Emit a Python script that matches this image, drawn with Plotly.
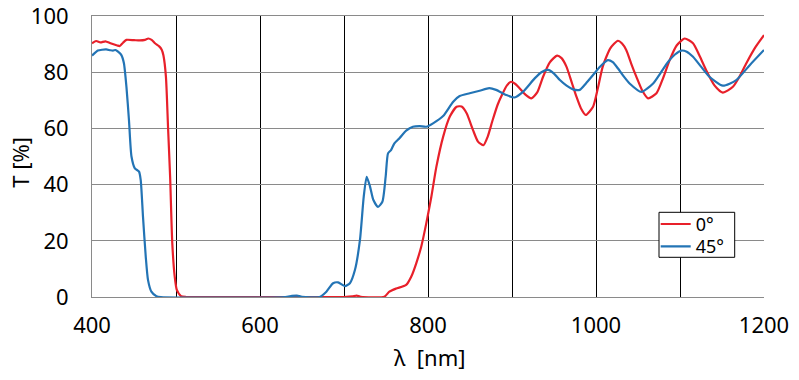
import plotly.graph_objects as go

# ---- data ----
wl_0 = [400, 405, 410, 416, 422, 430, 433, 437, 441, 450, 457, 463, 467, 471, 475, 480, 483, 485, 488, 490.5,
        493, 495.6, 498.5, 501, 506, 512, 600, 700, 710, 715, 720, 748, 754, 762, 774, 780, 786, 792, 798, 804,
        810, 818, 826, 834, 840, 846, 853.6, 859.5, 866, 871, 877, 883, 889, 894, 899, 904, 909, 916, 923, 930,
        937, 945, 953.6, 959, 964.8, 971, 976.7, 982, 987.7, 996.5, 1002, 1008, 1017, 1026, 1031, 1036, 1042,
        1048, 1055, 1062, 1072, 1080, 1087.7, 1096, 1105.6, 1115.5, 1123, 1131, 1141, 1151, 1163, 1171, 1179,
        1190, 1200]
t_0 = [90.3, 91.1, 90.6, 91.0, 90.3, 89.5, 89.3, 90.5, 91.5, 91.4, 91.3, 91.5, 92.0, 91.5, 90.3, 89.2, 88.0, 86.0,
       78.4, 60.6, 42.8, 19.0, 7.2, 2.5, 0.3, 0.0, 0.0, 0.0, 0.2, 0.5, 0.1, 0.1, 1.9, 3.0, 4.3, 7.2, 12.0, 18.0,
       26.3, 35.7, 46.4, 57.0, 64.2, 67.7, 67.8, 65.4, 59.4, 55.3, 54.0, 57.0, 63.0, 68.5, 72.5, 75.3, 76.6, 75.8,
       74.3, 72.0, 70.7, 72.8, 78.4, 83.5, 85.9, 85.0, 82.0, 76.5, 71.3, 67.2, 64.8, 67.7, 74.0, 82.0, 88.5, 91.2,
       90.2, 87.9, 83.0, 78.4, 73.5, 70.7, 72.5, 78.0, 84.3, 89.5, 92.0, 90.3, 86.0, 80.8, 75.3, 72.7, 74.8, 78.5,
       83.2, 89.0, 93.2]

wl_45 = [400, 407, 412, 417, 422, 425, 428, 431, 435, 438, 441, 444, 447, 451, 456, 458, 460.7, 464, 466.7, 470.7,
         476.7, 482, 630, 638, 644, 650, 671, 679, 687, 693, 701, 707, 713, 719, 723.5, 727, 731, 735, 740.5,
         745.7, 749.6, 752.4, 756, 760, 766, 774, 782, 790, 798, 806, 818, 830, 837.7, 849.6, 861.5, 873, 881,
         893, 903, 913, 927, 935, 943, 950, 957, 965, 972.6, 980.6, 988, 996.5, 1005, 1014, 1020, 1026, 1033,
         1040, 1054, 1068, 1077, 1086, 1094, 1101.7, 1108, 1115.5, 1125, 1135, 1151, 1167, 1183, 1200]
t_45 = [85.9, 87.7, 88.0, 88.1, 87.8, 87.7, 87.9, 87.3, 86.1, 83.2, 74.8, 63.0, 50.0, 45.8, 44.6, 41.6, 28.6, 14.3,
        6.0, 1.9, 0.3, 0.0, 0.0, 0.4, 0.5, 0.1, 0.0, 1.9, 4.9, 5.2, 3.9, 4.9, 9.6, 20.3, 35.7, 42.8, 39.3, 34.5,
        32.1, 33.9, 42.8, 51.1, 52.3, 54.7, 56.5, 59.2, 60.6, 60.8, 60.6, 61.8, 64.4, 69.5, 71.5, 72.5, 73.4,
        74.3, 73.7, 71.9, 71.0, 73.0, 77.8, 80.0, 80.8, 79.5, 77.2, 75.2, 73.9, 73.7, 76.0, 79.0, 82.0, 84.3,
        83.6, 81.4, 78.5, 76.0, 73.0, 76.0, 79.8, 83.7, 86.3, 87.7, 87.3, 85.5, 82.0, 78.4, 75.2, 77.2, 82.5, 87.9]

series_names = ["0°", "45°"]
x_tick_vals = [400, 500, 600, 700, 800, 900, 1000, 1100, 1200]
x_tick_text = ["400", "", "600", "", "800", "", "1000", "", "1200"]
y_tick_vals = [0, 20, 40, 60, 80, 100]

FONT = "Noto Sans, Liberation Sans, Arial, sans-serif"

# plot-area pixel geometry (for placing text/legend in paper coordinates)
PL, PR, PT, PB = 92.3, 764.3, 16.0, 297.0
PW, PH = PR - PL, PB - PT


def px(x):
    return (x - PL) / PW


def py(y):
    return (PB - y) / PH


fig = go.Figure()
fig.add_trace(go.Scatter(x=wl_0, y=t_0, mode="lines", name=series_names[0], legend="legend",
                         line=dict(color="#E8202A", width=2.2, shape="spline", smoothing=0.6)))
fig.add_trace(go.Scatter(x=wl_45, y=t_45, mode="lines", name=series_names[1], legend="legend2",
                         line=dict(color="#2374B5", width=2.2, shape="spline", smoothing=0.6)))

LEG_OFF = 17.5  # legend top -> first entry centre
leg_common = dict(xanchor="left", yanchor="top", bgcolor="rgba(0,0,0,0)", borderwidth=0,
                  font=dict(size=18, family=FONT), itemwidth=30)

fig.update_layout(
    width=799, height=380,
    margin=dict(l=92, r=35, t=16, b=83, autoexpand=False),
    paper_bgcolor="white", plot_bgcolor="white",
    font=dict(family=FONT, color="black", size=22),
    showlegend=True,
    legend=dict(x=px(656), y=py(223.3 - LEG_OFF), **leg_common),
    legend2=dict(x=px(656), y=py(245.7 - LEG_OFF), **leg_common),
    shapes=[dict(type="rect", xref="paper", yref="paper", layer="above",
                 x0=px(659.3), x1=px(735), y0=py(257.3), y1=py(212.3),
                 line=dict(color="black", width=1), fillcolor="white")],
    xaxis=dict(range=[400, 1200], tickmode="array", tickvals=x_tick_vals, ticktext=x_tick_text,
               showgrid=True, gridcolor="black", gridwidth=1, zeroline=False, automargin=False,
               showline=True, linecolor="#8a8a8a", linewidth=1, mirror=True,
               ticks="", ticklabelstandoff=9, tickfont=dict(size=22), ticklabeloverflow="allow"),
    yaxis=dict(range=[0, 100], tickmode="array", tickvals=y_tick_vals,
               showgrid=True, gridcolor="#8a8a8a", gridwidth=1, zeroline=False, automargin=False,
               showline=True, linecolor="#8a8a8a", linewidth=1, mirror=False,
               ticks="", ticklabelstandoff=18, tickfont=dict(size=22), ticklabeloverflow="allow"),
    annotations=[
        dict(text="λ  [nm]", xref="paper", yref="paper", x=px(430), y=py(357),
             xanchor="center", yanchor="middle", showarrow=False, font=dict(size=22)),
        dict(text="T [%]", xref="paper", yref="paper", x=px(20), y=py(162),
             xanchor="center", yanchor="middle", showarrow=False, textangle=-90, font=dict(size=22)),
    ],
)

# remove the browser's default 8px body margin so the figure sits at the page origin
fig.write_html("out.html", config={"displayModeBar": False},
               post_script="document.body.style.margin='0';")
